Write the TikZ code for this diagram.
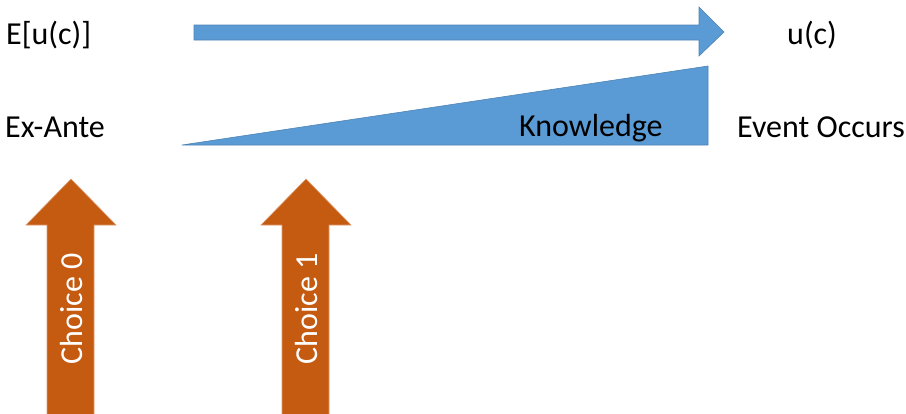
\documentclass[tikz,border=0pt]{standalone}
\usepackage{fontspec}
\setmainfont{Carlito}
\usetikzlibrary{positioning}
\definecolor{officeblue}{HTML}{5B9BD5}
\definecolor{officeorange}{HTML}{C55A11}

\begin{document}
\begin{tikzpicture}[x=1pt,y=-1pt,
    lbl/.style={font=\fontsize{32}{38}\selectfont, inner sep=0pt},
    blueshape/.style={fill=officeblue, draw=officeblue!85!black, line width=0.6pt},
    choicearrow/.style={fill=officeorange, draw=officeorange!60!white, line width=0.6pt}]
    \useasboundingbox (0,0) rectangle (906,413);

    % Time arrow
    \draw[blueshape] (194,25) -- (699,25) -- (699,7) -- (724,32) -- (699,56) -- (699,40) -- (194,40) -- cycle;

    % Knowledge wedge
    \draw[blueshape] (182,145) -- (708,145) -- (708,66) -- cycle;

    % Labels
    \node[lbl, anchor=base west] (eu) at (6,44) {E[u(c)]};
    \node[lbl, anchor=base west] (uc) at (787,44) {u(c)};
    \node[lbl, anchor=base west] (exante) at (5,137) {Ex-Ante};
    \node[lbl, anchor=base west] (know) at (519,136) {Knowledge};
    \node[lbl, anchor=base west] (event) at (737,137) {Event Occurs};

    % Choices
    \foreach \x/\t in {71/0, 306/1} {
        \draw[choicearrow] (\x-24,414) -- (\x-24,225) -- (\x-45,225) -- (\x,179) -- (\x+45,225) -- (\x+23,225) -- (\x+23,414);
        \node[lbl, text=white, rotate=90] (choice\t) at (\x,309) {Choice \t};
    }
\end{tikzpicture}
\end{document}
